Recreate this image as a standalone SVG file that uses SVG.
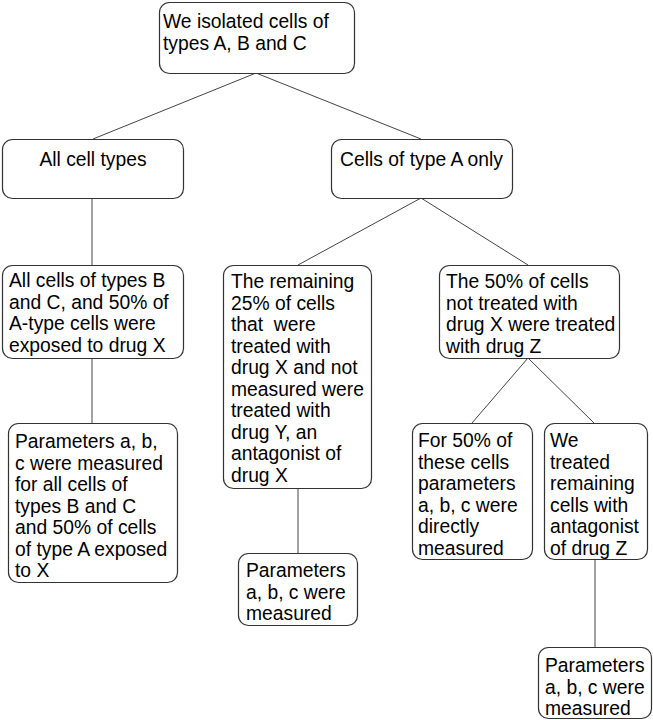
<svg xmlns="http://www.w3.org/2000/svg" width="653" height="720" viewBox="0 0 653 720">
<style>
.b{fill:#fff;stroke:#333;stroke-width:1.2}
.t{font-family:"Liberation Sans",Arial,sans-serif;font-size:19.3px;fill:#000;white-space:pre}
.c line{stroke:#444;stroke-width:1}
</style>
<rect width="653" height="720" fill="#fff"/>
<g class="c" id="connectors">
<line x1="256" y1="73" x2="93" y2="139"/>
<line x1="256" y1="73" x2="421" y2="139"/>
<line x1="92" y1="198" x2="92" y2="265"/>
<line x1="92" y1="358" x2="92" y2="423"/>
<line x1="421" y1="198" x2="298" y2="265"/>
<line x1="421" y1="198" x2="528" y2="265"/>
<line x1="298" y1="488" x2="298" y2="553"/>
<line x1="528" y1="358" x2="472" y2="423"/>
<line x1="528" y1="358" x2="594" y2="423"/>
<line x1="595" y1="559" x2="595" y2="647"/>
</g>
<g id="n1"><rect class="b" x="159.5" y="2.5" width="195" height="71" rx="10"/>
<text class="t" x="163"><tspan x="163" y="28">We isolated cells of</tspan><tspan x="163" y="50">types A, B and C</tspan></text></g>
<g id="n2"><rect class="b" x="2.5" y="139.5" width="181" height="59" rx="10"/>
<text class="t" x="93" y="166" text-anchor="middle">All cell types</text></g>
<g id="n3"><rect class="b" x="331.5" y="139.5" width="181" height="59" rx="10"/>
<text class="t" x="421.5" y="166" text-anchor="middle">Cells of type A only</text></g>
<g id="n4"><rect class="b" x="2.5" y="265.5" width="181" height="93" rx="10"/>
<text class="t"><tspan x="9" y="287">All cells of types B</tspan><tspan x="9" y="308.5">and C, and 50% of</tspan><tspan x="9" y="330">A-type cells were</tspan><tspan x="9" y="351.5">exposed to drug X</tspan></text></g>
<g id="n5"><rect class="b" x="223.5" y="265.5" width="148" height="223" rx="10"/>
<text class="t"><tspan x="231" y="288">The remaining</tspan><tspan x="231" y="309.5">25% of cells</tspan><tspan x="231" y="331">that  were</tspan><tspan x="231" y="352.5">treated with</tspan><tspan x="231" y="374">drug X and not</tspan><tspan x="231" y="395.5">measured were</tspan><tspan x="231" y="417">treated with</tspan><tspan x="231" y="438.5">drug Y, an</tspan><tspan x="231" y="460">antagonist of</tspan><tspan x="231" y="481.5">drug X</tspan></text></g>
<g id="n6"><rect class="b" x="439.5" y="265.5" width="180" height="93" rx="10"/>
<text class="t"><tspan x="446" y="288">The 50% of cells</tspan><tspan x="446" y="309.5">not treated with</tspan><tspan x="446" y="331">drug X were treated</tspan><tspan x="446" y="352.5">with drug Z</tspan></text></g>
<g id="n7"><rect class="b" x="8.5" y="423.5" width="169" height="159" rx="10"/>
<text class="t"><tspan x="15" y="448">Parameters a, b,</tspan><tspan x="15" y="469.5">c were measured</tspan><tspan x="15" y="491">for all cells of</tspan><tspan x="15" y="512.5">types B and C</tspan><tspan x="15" y="534">and 50% of cells</tspan><tspan x="15" y="555.5">of type A exposed</tspan><tspan x="15" y="577">to X</tspan></text></g>
<g id="n8"><rect class="b" x="238.5" y="553.5" width="119" height="72" rx="10"/>
<text class="t"><tspan x="246" y="577">Parameters</tspan><tspan x="246" y="598.5">a, b, c were</tspan><tspan x="246" y="620">measured</tspan></text></g>
<g id="n9"><rect class="b" x="412.5" y="423.5" width="120" height="136" rx="10"/>
<text class="t"><tspan x="418" y="447">For 50% of</tspan><tspan x="418" y="468.5">these cells</tspan><tspan x="418" y="490">parameters</tspan><tspan x="418" y="511.5">a, b, c were</tspan><tspan x="418" y="533">directly</tspan><tspan x="418" y="554.5">measured</tspan></text></g>
<g id="n10"><rect class="b" x="544.5" y="423.5" width="103" height="136" rx="10"/>
<text class="t"><tspan x="550" y="447">We</tspan><tspan x="550" y="468.5">treated</tspan><tspan x="550" y="490">remaining</tspan><tspan x="550" y="511.5">cells with</tspan><tspan x="550" y="533">antagonist</tspan><tspan x="550" y="554.5">of drug Z</tspan></text></g>
<g id="n11"><rect class="b" x="538.5" y="647.5" width="113" height="71" rx="10"/>
<text class="t"><tspan x="545" y="672">Parameters</tspan><tspan x="545" y="693.5">a, b, c were</tspan><tspan x="545" y="715">measured</tspan></text></g>
</svg>
